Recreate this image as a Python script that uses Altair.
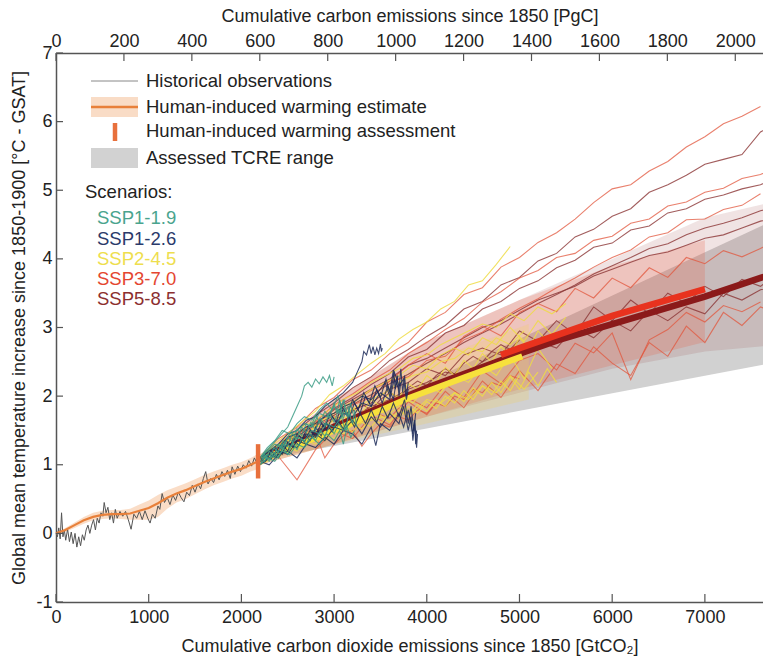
import altair as alt
import pandas as pd

XMAX = 7627
GT_PER_PGC = 3.664

X_TICKS = [0, 1000, 2000, 3000, 4000, 5000, 6000, 7000]
Y_TICKS = [-1, 0, 1, 2, 3, 4, 5, 6, 7]
PGC_TICKS = [0, 200, 400, 600, 800, 1000, 1200, 1400, 1600, 1800, 2000]

# Historical observations (x = cumulative GtCO2, y = degC)
OBS = [(0,0.0),(15,-0.05),(30,0.08),(45,-0.08),(60,0.3),(75,-0.05),(90,0.05),(105,-0.1),(125,0.06),(145,-0.12),
       (165,0.02),(185,-0.15),(205,0.0),(225,-0.2),(245,-0.05),(265,-0.18),(285,-0.02),(305,-0.1),(325,0.05),(345,0.12),
       (365,0.0),(385,0.12),(405,0.2),(425,0.05),(445,0.22),(465,0.15),(485,0.3),(505,0.25),(520,0.45),(540,0.3),
       (560,0.38),(580,0.2),(600,0.3),(620,0.15),(640,0.35),(660,0.22),(690,0.32),(720,0.25),(750,0.32),(780,0.2),
       (810,0.06),(840,0.28),(870,0.22),(900,0.32),(930,0.2),(960,0.33),(990,0.22),(1015,0.15),(1040,0.28),(1070,0.22),
       (1100,0.4),(1120,0.35),(1145,0.58),(1170,0.45),(1200,0.52),(1230,0.42),(1260,0.56),(1290,0.48),(1320,0.6),(1350,0.52),
       (1380,0.46),(1410,0.6),(1440,0.55),(1470,0.7),(1500,0.6),(1530,0.72),(1560,0.65),(1590,0.8),(1615,0.9),(1640,0.72),
       (1670,0.8),(1700,0.74),(1730,0.86),(1760,0.78),(1790,0.9),(1820,0.83),(1850,0.92),(1880,0.8),(1900,0.97),(1930,0.86),
       (1960,0.98),(1990,0.9),(2020,1.0),(2050,0.95),(2080,1.06),(2110,0.98),(2140,1.1),(2170,1.02),(2200,1.12),(2230,1.05)]
OBS_X = [p[0] for p in OBS]
OBS_Y = [p[1] for p in OBS]

# Human-induced warming estimate
EST_X = [0,100,200,300,400,500,600,700,800,900,1000,1100,1200,1300,1400,1500,1600,1700,1800,1900,2000,2100,2180]
EST_Y = [0,0.05,0.12,0.19,0.24,0.27,0.28,0.28,0.29,0.33,0.37,0.44,0.52,0.58,0.63,0.69,0.75,0.80,0.85,0.90,0.94,1.00,1.05]
EST_LO = [0,0.02,0.08,0.14,0.19,0.21,0.22,0.21,0.2,0.2,0.2,0.24,0.36,0.45,0.5,0.57,0.64,0.7,0.75,0.8,0.84,0.9,0.94]
EST_HI = [0,0.08,0.16,0.24,0.3,0.33,0.34,0.34,0.36,0.42,0.48,0.56,0.63,0.68,0.73,0.79,0.85,0.9,0.95,1.0,1.04,1.1,1.16]

ASSESS_X = [2180]
ASSESS_LO = [0.8]
ASSESS_HI = [1.3]

# Assessed TCRE range
TCRE_X = [2200, 7800]
TCRE_LO = [1.07, 2.5]
TCRE_HI = [1.07, 4.6]

# Scenario ranges
B585_X = [2200, 3000, 4000, 5000, 6000, 7000, 7800]
B585_LO = [1.0, 1.3, 1.7, 2.05, 2.4, 2.65, 2.75]
B585_HI = [1.15, 1.95, 2.8, 3.4, 4.0, 4.6, 4.85]
B370_X = [2200, 3000, 4000, 5000, 6000, 7000]
B370_LO = [1.0, 1.3, 1.7, 2.1, 2.45, 2.79]
B370_HI = [1.15, 1.95, 2.8, 3.4, 3.9, 4.27]
B245_X = [2200, 3000, 4000, 5100]
B245_LO = [1.0, 1.3, 1.6, 1.95]
B245_HI = [1.15, 1.8, 2.5, 3.05]

# Central (thick) scenario lines
C585 = [(2200,1.07),(3000,1.55),(4000,2.12),(5000,2.62),(5426,2.82),(6000,3.05),(7000,3.45),(7616,3.73),(7800,3.8)]
C370 = [(4800,2.6),(5000,2.7),(6000,3.17),(7000,3.56)]
C245 = [(2200,1.07),(3000,1.5),(3800,1.97),(4400,2.27),(5030,2.58)]

# Model lines
G200 = [2200,2400,2600,2800,3000,3200,3400,3600,3800,4000,4200,4400,4600,4800,5000,5200,5400,5600,5800,6000,
        6200,6400,6600,6800,7000,7200,7400,7600,7800]
G100 = [2200,2300,2400,2500,2600,2700,2800,2900,3000,3100,3200,3300,3400,3500,3600,3700,3800,3900,4000,4100,
        4200,4300,4400,4500,4600,4700,4800,4900,5000,5100,5200,5300,5400]
SSP370_LINES = [
    [1.1,1.38,1.55,1.82,1.98,2.24,2.38,2.62,2.78,3.08,3.22,3.48,3.58,3.88,4.02,4.24,4.38,4.58,4.82,5.02,5.08,5.28,5.42,5.63,5.78,5.97,6.08,6.22],
    [1.1,1.28,1.47,1.63,1.87,2.03,2.22,2.38,2.62,2.78,2.97,3.13,3.37,3.52,3.72,3.83,4.02,4.08,4.27,4.33,4.52,4.58,4.77,4.83,4.97,5.03,5.17,5.23,5.35],
    [1.08,1.22,1.33,1.57,1.68,1.87,1.98,2.22,2.28,2.52,2.58,2.82,2.93,3.12,3.28,3.42,3.58,3.72,3.88,4.02,4.13,4.32,4.38,4.57,4.58,4.72,4.78,4.95],
    [1.05,1.12,0.78,1.22,1.5,1.38,1.72,1.58,1.92,1.73,2.07,1.83,2.22,1.98,2.37,2.08,2.47,2.33,2.72,2.48,2.3,2.78,2.58,3.02,2.78,3.22,3.03,3.3,3.2],
    [1.1,1.3,1.45,1.62,1.75,1.92,2.08,2.22,2.45,2.62,2.48,2.87,3.02,2.88,3.22,3.35,3.23,3.57,3.43,3.72,3.58,3.87,3.73,4.02,3.93,4.12,4.03,4.15,4.3],
    [1.1,1.2,1.35,1.42,1.55,1.48,1.77,1.68,1.97,1.83,2.17,1.98,2.37,2.18,2.52,2.62,2.38,2.77,2.63,2.92,2.24,2.82,2.97,3.22,3.08,3.32,3.23,3.37],
]
SSP370_FINE = [
    [1.1,1.15,1.22,1.3,1.25,1.38,1.45,1.1,1.3,1.42,1.5,1.27,1.45,1.6,1.55,1.7,1.65,1.8,1.75,1.9,1.85,2.0,1.95,2.1,2.05,2.2,2.15,2.3,2.25],
]
SSP585_LINES = [
    [1.1,1.3,1.5,1.72,1.9,2.12,2.28,2.52,2.68,2.87,3.03,3.27,3.38,3.62,3.73,3.97,4.08,4.32,4.43,4.62,4.73,4.97,5.08,5.22,5.38,5.45,5.52,5.85,6.0],
    [1.1,1.25,1.45,1.6,1.82,1.98,2.17,2.33,2.57,2.68,2.92,3.03,3.27,3.38,3.57,3.68,3.87,3.98,4.17,4.23,4.42,4.48,4.67,4.73,4.87,4.93,5.02,5.08,5.2],
    [1.1,1.25,1.4,1.5,1.65,1.8,1.9,2.1,2.2,2.4,2.3,2.6,2.7,2.6,2.95,2.8,3.1,2.9,3.3,3.1,3.4,3.2,3.5,3.35,3.6,3.45,3.7,3.6,3.8],
    [1.05,1.2,1.3,1.45,1.6,1.7,1.85,1.95,2.1,2.2,2.35,2.3,2.5,2.65,2.55,2.8,2.7,3.0,2.85,3.1,2.95,3.25,3.1,3.3,3.2,3.5,3.4,3.55,3.6],
    [1.1,1.3,1.45,1.6,1.8,1.95,2.1,2.25,2.45,2.55,2.7,2.85,3.0,3.1,3.25,3.4,3.5,3.6,3.75,3.85,3.95,4.05,4.1,4.2,4.3,4.35,4.45,4.55,4.6],
    [1.1,1.28,1.42,1.58,1.72,1.88,2.02,2.18,2.32,2.48,2.62,2.78,2.92,3.05,3.2,3.35,3.48,3.62,3.78,3.9,4.02,4.15,4.22,4.35,4.45,4.52,4.6,4.7,4.78],
]
SSP585_FINE = [
    [1.1,1.2,1.3,1.25,1.4,1.5,1.45,1.6,1.7,1.62,1.78,1.88,1.8,1.95,2.05,1.98,2.12,2.22,2.15,2.3,2.4,2.32,2.48,2.58,2.5,2.65,2.75,2.68,2.82],
]
G150 = [2200,2350,2500,2650,2800,2950,3100,3250,3400,3550,3700,3850,4000,4150,4300,4450,4600,4750,4900,5050,5200,5350,5500]
SSP245_LINES = [
    [1.1,1.3,1.45,1.62,1.78,2.02,2.15,2.32,2.48,2.62,2.83,2.97,3.08,3.27,3.38,3.62,3.68,3.92,4.18],
    [1.1,1.25,1.4,1.55,1.65,1.8,1.95,2.05,2.2,2.3,2.4,2.55,2.6,2.75,2.85,2.95,3.05,3.0,3.2,3.1,3.3,3.2,3.35],
    [1.05,1.2,1.3,1.25,1.5,1.45,1.7,1.6,1.85,1.75,2.0,1.9,2.15,2.05,2.3,2.2,2.45,2.3,2.6,2.25,2.7,2.4],
    [1.1,1.15,1.35,1.4,1.55,1.6,1.75,1.85,1.95,2.05,2.2,2.3,2.35,2.5,2.55,2.7,2.65,2.85,2.75,2.95],
    [1.0,1.1,1.2,1.3,1.35,1.45,1.5,1.6,1.65,1.7,1.85,1.75,1.95,1.9,2.05,1.95,2.15,2.05,2.3,2.1,2.35],
    [1.1,1.25,1.35,1.5,1.6,1.7,1.85,1.95,2.1,2.2,2.3,2.45,2.4,2.6,2.7,2.6,2.85,2.75,3.0,2.8,3.1,2.9,3.15],
]
SSP245_FINE = [
    [1.05,1.15,1.1,1.25,1.2,1.35,1.3,1.45,1.38,1.55,1.48,1.62,1.55,1.72,1.62,1.8,1.7,1.88,1.78,1.95,1.85,2.05,1.92,2.12,2.0,2.2,2.05,2.28,2.1,2.35,2.15,2.4,2.2],
    [1.1,1.2,1.3,1.28,1.45,1.4,1.58,1.52,1.7,1.62,1.82,1.75,1.95,1.85,2.05,1.98,2.18,2.1,2.3,2.2,2.42,2.3,2.52,2.4,2.62,2.5,2.72,2.6,2.85,2.7,2.95,2.8],
    [1.05,1.12,1.22,1.18,1.32,1.28,1.42,1.35,1.5,1.45,1.6,1.52,1.68,1.6,1.75,1.68,1.85,1.75,1.92,1.82,2.0,1.9,2.08,1.95,2.15,2.02,2.22,2.08,2.3],
]
SSP126_LINES = [
    [(2200,1.1),(2300,1.2),(2400,1.3),(2500,1.45),(2600,1.5),(2700,1.65),(2800,1.7),(2900,1.85),(3000,1.95),(3100,2.05),
     (3200,2.2),(3250,2.35),(3300,2.5),(3320,2.65),(3350,2.6),(3380,2.75),(3400,2.62),(3420,2.72),(3440,2.6),(3460,2.7),
     (3480,2.62),(3500,2.76),(3510,2.65),(3520,2.7)],
    [(2200,1.05),(2300,1.15),(2400,1.1),(2500,1.3),(2600,1.25),(2700,1.45),(2800,1.4),(2900,1.6),(3000,1.55),(3100,1.75),
     (3200,1.7),(3300,1.9),(3400,1.85),(3500,2.05),(3600,1.95),(3650,2.25),(3700,2.1),(3720,2.4),(3740,2.05),(3760,2.3),
     (3780,2.0),(3800,2.2)],
    [(2200,1.0),(2300,1.1),(2400,1.2),(2500,1.15),(2600,1.35),(2700,1.3),(2800,1.45),(2900,1.35),(3000,1.55),(3100,1.5),
     (3200,1.65),(3300,1.45),(3400,1.7),(3500,1.55),(3600,1.75),(3700,1.6),(3750,1.85),(3800,1.5),(3830,1.7),(3850,1.35),
     (3870,1.6),(3880,1.3),(3890,1.5)],
    [(2200,1.05),(2300,1.0),(2400,1.15),(2500,1.2),(2600,1.1),(2700,1.3),(2800,1.25),(2900,1.4),(3000,1.3),(3100,1.5),
     (3200,1.45),(3300,1.3),(3400,1.55),(3450,1.28),(3500,1.6),(3600,1.5),(3700,1.75),(3750,1.55),(3800,1.8),(3850,1.45),
     (3870,1.65),(3890,1.25),(3900,1.45)],
    [(2200,1.1),(2300,1.2),(2400,1.25),(2500,1.4),(2600,1.45),(2700,1.55),(2800,1.6),(2900,1.7),(3000,1.75),(3100,1.85),
     (3200,1.9),(3300,2.0),(3400,1.95),(3500,2.1),(3550,2.2),(3600,2.0),(3650,2.35),(3700,2.15),(3750,2.25),(3780,1.95),
     (3800,2.1)],
    [(2200,1.05),(2260,1.15),(2320,1.08),(2380,1.22),(2440,1.15),(2500,1.32),(2560,1.25),(2620,1.42),(2680,1.33),(2740,1.5),
     (2800,1.42),(2860,1.6),(2920,1.5),(2980,1.7),(3040,1.6),(3100,1.82),(3160,1.68),(3220,1.9),(3280,1.75),(3340,2.0),
     (3400,1.85),(3460,2.1),(3520,1.9),(3580,2.15),(3640,1.95),(3680,2.3),(3700,2.0),(3720,2.2)],
    [(2200,1.1),(2260,1.05),(2320,1.2),(2380,1.12),(2440,1.3),(2500,1.2),(2560,1.38),(2620,1.28),(2680,1.45),(2740,1.35),
     (2800,1.55),(2860,1.42),(2920,1.6),(2980,1.48),(3040,1.65),(3100,1.52),(3160,1.7),(3220,1.55),(3280,1.75),(3340,1.6),
     (3400,1.8),(3460,1.62),(3520,1.85),(3580,1.68),(3640,1.9),(3700,1.7),(3760,1.95),(3800,1.6),(3830,1.85),(3860,1.5),
     (3880,1.75)],
    [(2300,1.15),(2360,1.25),(2420,1.18),(2480,1.35),(2540,1.28),(2600,1.45),(2660,1.38),(2720,1.55),(2780,1.45),(2840,1.65),
     (2900,1.55),(2960,1.75),(3020,1.62),(3080,1.85),(3140,1.72),(3200,1.95),(3260,1.8),(3320,2.05),(3380,1.9),(3440,2.15),
     (3500,1.98),(3560,2.25),(3600,2.05),(3640,2.38),(3660,2.1),(3690,2.3)],
]
SSP119_LINES = [
    [(2200,1.1),(2300,1.25),(2400,1.4),(2500,1.55),(2550,1.7),(2600,1.85),(2650,2.0),(2680,2.15),(2720,2.2),(2760,2.13),
     (2800,2.25),(2840,2.18),(2880,2.28),(2920,2.2),(2950,2.3),(2980,2.15),(3000,2.28)],
    [(2200,1.05),(2280,1.15),(2360,1.1),(2440,1.3),(2520,1.25),(2600,1.4),(2680,1.35),(2760,1.5),(2840,1.45),(2920,1.6),
     (3000,1.55),(3080,1.7),(3120,1.5),(3160,1.75),(3200,1.6),(3220,1.8),(3240,1.55)],
    [(2200,1.1),(2280,1.2),(2360,1.3),(2440,1.25),(2520,1.45),(2600,1.5),(2680,1.6),(2760,1.55),(2840,1.75),(2920,1.7),
     (3000,1.85),(3060,1.75),(3100,1.95),(3140,1.7),(3180,1.9),(3200,1.75)],
    [(2200,1.0),(2280,1.1),(2360,1.05),(2440,1.2),(2520,1.15),(2600,1.3),(2680,1.25),(2760,1.4),(2840,1.3),(2920,1.45),
     (3000,1.35),(3060,1.5),(3100,1.3),(3140,1.55),(3180,1.4),(3220,1.5)],
    [(2200,1.1),(2280,1.25),(2360,1.35),(2440,1.5),(2520,1.45),(2600,1.6),(2680,1.7),(2760,1.65),(2840,1.8),(2920,1.9),
     (2980,1.8),(3040,2.0),(3080,1.85),(3120,1.95)],
    [(2200,1.05),(2250,1.15),(2300,1.08),(2350,1.25),(2400,1.18),(2450,1.35),(2500,1.28),(2550,1.45),(2600,1.38),(2650,1.55),
     (2700,1.47),(2750,1.62),(2800,1.5),(2850,1.68),(2900,1.58),(2950,1.75),(3000,1.62),(3050,1.8),(3100,1.68),(3150,1.85),
     (3180,1.7)],
    [(2200,1.1),(2250,1.05),(2300,1.2),(2350,1.12),(2400,1.3),(2450,1.22),(2500,1.4),(2550,1.33),(2600,1.52),(2650,1.42),
     (2700,1.6),(2750,1.55),(2800,1.72),(2850,1.6),(2900,1.78),(2950,1.68),(3000,1.9),(3030,1.75),(3060,1.95),(3090,1.7),
     (3120,1.88)],
    [(2200,1.0),(2250,1.12),(2300,1.05),(2350,1.18),(2400,1.1),(2450,1.25),(2500,1.15),(2550,1.32),(2600,1.22),(2650,1.38),
     (2700,1.3),(2750,1.45),(2800,1.35),(2850,1.5),(2900,1.42),(2950,1.56),(3000,1.45),(3050,1.6),(3100,1.5),(3150,1.58)],
]

LEGEND_LABELS = ["Historical observations", "Human-induced warming estimate",
                 "Human-induced warming assessment", "Assessed TCRE range"]
SCENARIOS = ["SSP1-1.9", "SSP1-2.6", "SSP2-4.5", "SSP3-7.0", "SSP5-8.5"]
SCEN_TEXT_COLORS = ["#4aa48e", "#2b3a6b", "#eede4e", "#e44630", "#8c2f2f"]

FONT = "Liberation Sans"
XS = alt.Scale(domain=[0, XMAX], nice=False, zero=False)
YS = alt.Scale(domain=[-1, 7], nice=False, zero=False)
X_AXIS = alt.Axis(values=X_TICKS, labelExpr="'' + datum.value", ticks=False, tickSize=0, grid=False, labelFlush=False,
                  labelOverlap=False, labelPadding=6, titlePadding=11,
                  title="Cumulative carbon dioxide emissions since 1850 [GtCO₂]")
Y_AXIS = alt.Axis(values=Y_TICKS, labelExpr="'' + datum.value", ticks=False, tickSize=0, grid=False, labelFlush=False,
                  labelOverlap=False, labelPadding=4, titlePadding=7,
                  title="Global mean temperature increase since 1850-1900 [°C - GSAT]")


def X(f):
    return alt.X(f, type="quantitative", scale=XS, axis=X_AXIS)


def Y(f):
    return alt.Y(f, type="quantitative", scale=YS, axis=Y_AXIS)


def band(xs, lo, hi, color, op):
    df = pd.DataFrame({"x": xs, "lo": lo, "hi": hi})
    return alt.Chart(df).mark_area(color=color, opacity=op, clip=True).encode(
        x=X("x"), y=Y("lo"), y2=alt.Y2("hi"))


def grid_lines(grid, series, color, op, width=1.1):
    rows = []
    for k, ys in enumerate(series):
        for i, v in enumerate(ys):
            rows.append({"x": grid[i], "y": v, "line": k, "o": i})
    return alt.Chart(pd.DataFrame(rows)).mark_line(color=color, opacity=op, strokeWidth=width, clip=True).encode(
        x=X("x"), y=Y("y"), detail="line:N", order="o:Q")


def pair_lines(series, color, op, width=1.1):
    rows = []
    for k, pts in enumerate(series):
        for i, (a, b) in enumerate(pts):
            rows.append({"x": a, "y": b, "line": k, "o": i})
    return alt.Chart(pd.DataFrame(rows)).mark_line(color=color, opacity=op, strokeWidth=width, clip=True).encode(
        x=X("x"), y=Y("y"), detail="line:N", order="o:Q")


def thick(pts, color, width):
    df = pd.DataFrame({"x": [p[0] for p in pts], "y": [p[1] for p in pts], "o": list(range(len(pts)))})
    return alt.Chart(df).mark_line(color=color, strokeWidth=width, strokeCap="butt", clip=True).encode(
        x=X("x"), y=Y("y"), order="o:Q")


layers = [
    band(TCRE_X, TCRE_LO, TCRE_HI, "#c9c9c9", 0.85),
    band(B585_X, B585_LO, B585_HI, "#8b2a2a", 0.13),
    band(B370_X, B370_LO, B370_HI, "#e8583c", 0.22),
    band(B245_X, B245_LO, B245_HI, "#f2cf5a", 0.25),
    band(EST_X, EST_LO, EST_HI, "#f6c7a2", 0.6),
    grid_lines(G200, SSP585_LINES, "#8b3535", 0.8),
    grid_lines(G100, SSP585_FINE, "#8b3535", 0.8),
    grid_lines(G200, SSP370_LINES, "#e2553c", 0.75),
    grid_lines(G100, SSP370_FINE, "#e2553c", 0.75),
    grid_lines(G150, SSP245_LINES, "#efdc45", 0.85),
    grid_lines(G100, SSP245_FINE, "#efdc45", 0.85),
    thick(C585, "#8b1a1a", 6.5),
    thick(C370, "#e8321e", 6.5),
    thick(C245, "#f7e13c", 6),
    pair_lines(SSP126_LINES, "#1e2d5a", 0.85),
    pair_lines(SSP119_LINES, "#3c9c86", 0.85),
]

obs = alt.Chart(pd.DataFrame({"x": OBS_X, "y": OBS_Y, "o": list(range(len(OBS_X)))})).mark_line(
    color="#555555", strokeWidth=1).encode(x=X("x"), y=Y("y"), order="o:Q")
est = alt.Chart(pd.DataFrame({"x": EST_X, "y": EST_Y})).mark_line(
    color="#e8803a", strokeWidth=2.2).encode(x=X("x"), y=Y("y"))
assess = alt.Chart(pd.DataFrame({"x": ASSESS_X, "lo": ASSESS_LO, "hi": ASSESS_HI})).mark_rule(
    color="#e8703c", strokeWidth=4.5).encode(x=X("x"), y=Y("lo"), y2=alt.Y2("hi"))
layers += [obs, est, assess]

# inward ticks
xt = alt.Chart(pd.DataFrame({"v": X_TICKS})).mark_rule(color="#555", strokeWidth=1.2).encode(
    x=X("v"), y=alt.value(549), y2=alt.value(541))
yt = alt.Chart(pd.DataFrame({"v": Y_TICKS})).mark_rule(color="#555", strokeWidth=1.2).encode(
    y=Y("v"), x=alt.value(0), x2=alt.value(7))
layers += [xt, yt]

# legend
one = pd.DataFrame({"a": [0]})
TXT = dict(align="left", baseline="middle", fontSize=18.5, font=FONT, color="#222")
leg = [
    alt.Chart(one).mark_rule(color="#888", strokeWidth=1).encode(x=alt.value(35), x2=alt.value(82), y=alt.value(28)),
    alt.Chart(one).mark_rect(color="#f9dcc6").encode(x=alt.value(35), x2=alt.value(82), y=alt.value(44), y2=alt.value(64)),
    alt.Chart(one).mark_rule(color="#e8803a", strokeWidth=2.5).encode(x=alt.value(35), x2=alt.value(82), y=alt.value(54)),
    alt.Chart(one).mark_rule(color="#e8703c", strokeWidth=4.5).encode(x=alt.value(59), y=alt.value(70), y2=alt.value(88)),
    alt.Chart(one).mark_rect(color="#d2d2d2").encode(x=alt.value(35), x2=alt.value(82), y=alt.value(95), y2=alt.value(115)),
]
for lab, ypix in zip(LEGEND_LABELS, [28, 54, 78, 105]):
    leg.append(alt.Chart(one).mark_text(text=lab, **TXT).encode(x=alt.value(90), y=alt.value(ypix)))
leg.append(alt.Chart(one).mark_text(text="Scenarios:", **TXT).encode(x=alt.value(29), y=alt.value(139)))
for lab, col, ypix in zip(SCENARIOS, SCEN_TEXT_COLORS, [165, 186, 206, 226, 246]):
    t = dict(TXT)
    t["color"] = col
    leg.append(alt.Chart(one).mark_text(text=lab, **t).encode(x=alt.value(41), y=alt.value(ypix)))
layers += leg

main = alt.layer(*layers)

top = alt.Chart(pd.DataFrame({"v": PGC_TICKS})).mark_rule(color="#555", strokeWidth=1.2).encode(
    x=alt.X("v:Q", scale=alt.Scale(domain=[0, XMAX / GT_PER_PGC], nice=False, zero=False),
            axis=alt.Axis(orient="top", values=PGC_TICKS, labelExpr="'' + datum.value", ticks=False, tickSize=0,
                          grid=False, labelFlush=False, labelOverlap=False, labelPadding=3, titlePadding=7,
                          title="Cumulative carbon emissions since 1850 [PgC]")),
    y=alt.value(0), y2=alt.value(8))

chart = alt.layer(main, top).resolve_scale(x="independent").properties(
    width=707, height=549,
    padding={"left": 56, "top": 53, "right": 0, "bottom": 60},
    autosize=alt.AutoSizeParams(type="none"),
    background="white",
).configure_view(stroke=None).configure_axis(
    labelFont=FONT, titleFont=FONT, labelFontSize=18, titleFontSize=18, labelColor="#222", titleColor="#222",
    titleFontWeight="normal", domainColor="#555", domainWidth=1.5)

chart.save("out.html", embed_options={"renderer": "svg", "actions": False})
